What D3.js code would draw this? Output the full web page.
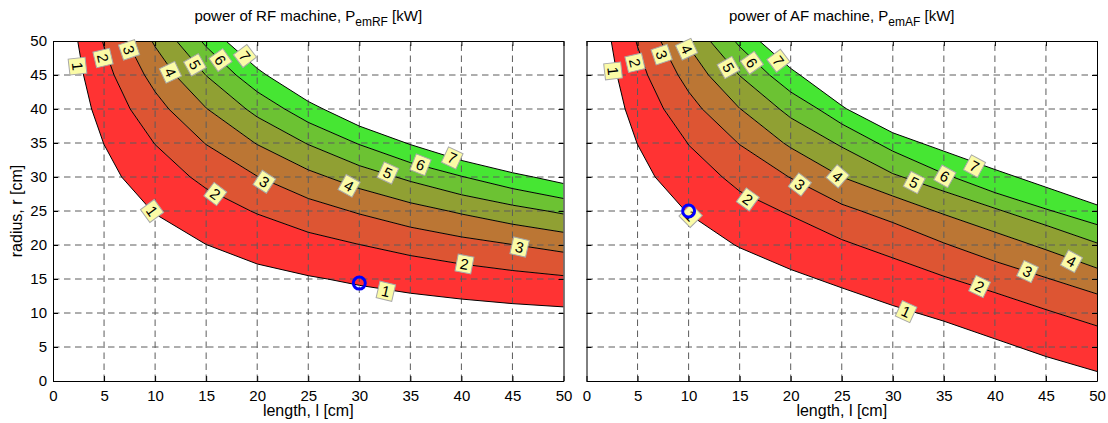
<!DOCTYPE html>
<html>
<head>
<meta charset="utf-8">
<script src="https://cdn.jsdelivr.net/npm/d3@7"></script>
<style>
  body { margin: 0; background: #fff; }
  svg text { font-family: "Liberation Sans", Arial, sans-serif; fill: #000; }
</style>
</head>
<body>
<svg id="chart" width="1108" height="423"></svg>
<script>
// ---------------- data ----------------
// Power levels (kW) of the contour lines
const levels = [1, 2, 3, 4, 5, 6, 7];
const lengthTicks = [0, 5, 10, 15, 20, 25, 30, 35, 40, 45, 50];
const radiusTicks = [0, 5, 10, 15, 20, 25, 30, 35, 40, 45, 50];

// RF machine: constant-power lines, [length l (cm), radius r (cm)]
const rfLine1 = [[2.42,50],[2.99,45],[3.78,40],[4.94,35],[5,34.77],[6.72,30],[9.68,25],[10,24.56],[15,20.07],[15.13,20],[20,17.21],[25,15.49],[26.89,15],[30,14.07],[35,12.91],[40,12.05],[45,11.38],[50,10.9]];
const rfLine2 = [[4.84,50],[5,49.16],[5.98,45],[7.56,40],[9.88,35],[10,34.77],[13.44,30],[15,28.30],[19.36,25],[20,24.56],[25,21.87],[30,20.07],[30.25,20],[35,18.45],[40,17.21],[45,16.25],[50,15.49]];
const rfLine3 = [[7.26,50],[8.96,45],[10,42.53],[11.34,40],[14.82,35],[15,34.77],[20,30.12],[20.17,30],[25,26.84],[29.04,25],[30,24.56],[35,22.63],[40,21.19],[45,20.07],[45.38,20],[50,18.94]];
const rfLine4 = [[9.68,50],[10,49.16],[11.95,45],[15,40.16],[15.13,40],[19.76,35],[20,34.77],[25,31.05],[26.89,30],[30,28.30],[35,26.21],[38.72,25],[40,24.56],[45,23.06],[50,21.87]];
const rfLine5 = [[12.1,50],[14.94,45],[15,44.90],[18.91,40],[20,38.83],[24.69,35],[25,34.77],[30,31.67],[33.61,30],[35,29.35],[40,27.39],[45,25.86],[48.4,25],[50,24.56]];
const rfLine6 = [[14.52,50],[15,49.16],[17.93,45],[20,42.53],[22.69,40],[25,38.03],[29.63,35],[30,34.77],[35,32.11],[40,30.12],[40.33,30],[45,28.30],[50,26.84]];
const rfLine7 = [[16.94,50],[20,45.97],[20.91,45],[25,41.11],[26.47,40],[30,37.49],[34.57,35],[35,34.77],[40,32.44],[45,30.63],[47.06,30],[50,29.04]];

// AF machine: constant-power lines, [length l (cm), radius r (cm)]
const afLine1 = [[2.42,50],[2.99,45],[3.78,40],[4.94,35],[5,34.77],[6.72,30],[9.68,25],[10,24.56],[14.5,20],[15,19.6],[20,16.4],[25,13.7],[30,11.1],[35,8.8],[40,6.2],[45,3.6],[50,1.4]];
const afLine2 = [[4.84,50],[5,49.16],[5.98,45],[7.56,40],[9.88,35],[10,34.7],[13.3,30],[15,27.9],[19,25],[20,24.3],[25,20.8],[30,18.1],[35,15.4],[40,13.0],[45,10.5],[50,8.1]];
const afLine3 = [[7.26,50],[8.96,45],[10,42.53],[11.34,40],[14.82,35],[15,34.75],[19.8,30],[20,29.85],[25,26.0],[26.9,25],[30,23.3],[35,20.3],[40,17.6],[45,15.2],[50,12.8]];
const afLine4 = [[9.68,50],[10,49.16],[11.95,45],[15,40.1],[15.1,40],[19.3,35],[20,34.3],[25,30.0],[30,27.2],[35,24.5],[40,21.9],[45,19.3],[50,16.6]];
const afLine5 = [[12.1,50],[14.94,45],[15,44.9],[18.9,40],[20,38.7],[24.3,35],[25,34.4],[30,30.5],[35,27.9],[40,25.4],[45,22.9],[50,20.3]];
const afLine6 = [[14.52,50],[15,49.16],[17.93,45],[20,42.5],[22.7,40],[25,37.8],[30,33.8],[35,30.5],[40,27.7],[45,25.3],[50,23.0]];
const afLine7 = [[16.94,50],[20,45.97],[20.91,45],[25,40.5],[25.5,40],[30,36.5],[35,33.8],[40,31.1],[45,28.5],[50,25.9]];

// Contour labels: [level, l, r]
const rfLabels = [[1,2.4,46.3],[2,4.9,47.5],[3,7.45,48.7],[4,11.5,45.4],[5,13.9,46.5],[6,16.4,47.2],[7,18.8,47.8],
                  [1,9.7,25.0],[2,15.9,27.5],[3,20.7,29.3],[4,29.0,28.7],[5,32.8,30.6],[6,36.0,31.8],[7,39.1,32.8],
                  [1,32.6,13.2],[2,40.3,17.2],[3,45.7,19.7]];
const afLabels = [[1,2.6,45.6],[2,4.75,46.8],[3,7.36,48.0],[4,9.8,48.8],[5,13.9,46.1],[6,16.2,46.8],[7,18.8,47.1],
                  [1,10.2,24.3],[2,15.8,26.7],[3,20.9,28.9],[4,24.6,30.1],[5,32.1,29.2],[6,35.1,30.1],[7,38.0,31.6],
                  [1,31.3,10.2],[2,38.5,13.9],[3,43.2,16.1],[4,47.5,17.6]];

// Operating points [l, r]
const rfPoint = [30, 14.4];
const afPoint = [10, 25];

// ---------------- drawing ----------------
const bandColors = ["#ff3333", "#dd5533", "#bb7634", "#90a033", "#6cc233", "#46e633"];
const svg = d3.select("#chart");
const y = d3.scaleLinear().domain([0, 50]).range([381, 41]);

const panels = [
  { id: "rf", x: d3.scaleLinear().domain([0, 50]).range([53, 563.5]),
    lines: [rfLine1, rfLine2, rfLine3, rfLine4, rfLine5, rfLine6, rfLine7],
    labels: rfLabels, point: rfPoint, sub: "emRF", name: "RF", yLabels: true },
  { id: "af", x: d3.scaleLinear().domain([0, 50]).range([586.5, 1097]),
    lines: [afLine1, afLine2, afLine3, afLine4, afLine5, afLine6, afLine7],
    labels: afLabels, point: afPoint, sub: "emAF", name: "AF", yLabels: false }
];

panels.forEach(p => {
  const x = p.x;
  const g = svg.append("g");
  const [x0, x1] = x.range();
  const [yb, yt] = y.range();

  g.append("clipPath").attr("id", "clip-" + p.id)
    .append("rect").attr("x", x0).attr("y", yt).attr("width", x1 - x0).attr("height", yb - yt);

  const plot = g.append("g").attr("clip-path", `url(#clip-${p.id})`);
  const line = d3.line().x(d => x(d[0])).y(d => y(d[1]));

  // filled bands between consecutive power levels
  for (let i = 0; i < p.lines.length - 1; i++) {
    const ring = p.lines[i].concat(p.lines[i + 1].slice().reverse());
    plot.append("path").attr("d", line(ring) + "Z").attr("fill", bandColors[i]).attr("stroke", "none");
  }

  // dashed grid
  plot.selectAll(".gx").data(lengthTicks.filter(t => t > 0 && t < 50)).join("line")
    .attr("x1", d => x(d)).attr("x2", d => x(d)).attr("y1", yb).attr("y2", yt)
    .attr("stroke", "#5c5c5c").attr("stroke-dasharray", "6.5,4.5").attr("stroke-width", 1);
  plot.selectAll(".gy").data(radiusTicks.filter(t => t > 0 && t < 50)).join("line")
    .attr("y1", d => y(d)).attr("y2", d => y(d)).attr("x1", x0).attr("x2", x1)
    .attr("stroke", "#5c5c5c").attr("stroke-dasharray", "6.5,4.5").attr("stroke-width", 1);

  // contour lines
  plot.selectAll(".cl").data(p.lines).join("path")
    .attr("d", d => line(d)).attr("fill", "none").attr("stroke", "#000").attr("stroke-width", 1);

  // axes (ticks pointing inward)
  const font = "Liberation Sans, Arial, sans-serif";
  const bottom = g.append("g").attr("transform", `translate(0,${yb})`)
    .call(d3.axisBottom(x).tickValues(lengthTicks).tickFormat(d3.format("d")).tickSizeInner(-5).tickSizeOuter(0).tickPadding(9));
  const left = g.append("g").attr("transform", `translate(${x0},0)`)
    .call(d3.axisLeft(y).tickValues(radiusTicks).tickFormat(p.yLabels ? d3.format("d") : () => "").tickSizeInner(-5).tickSizeOuter(0).tickPadding(6));
  const top = g.append("g").attr("transform", `translate(0,${yt})`)
    .call(d3.axisTop(x).tickValues(lengthTicks).tickFormat(() => "").tickSizeInner(-5).tickSizeOuter(0));
  const right = g.append("g").attr("transform", `translate(${x1},0)`)
    .call(d3.axisRight(y).tickValues(radiusTicks).tickFormat(() => "").tickSizeInner(-5).tickSizeOuter(0));
  [bottom, left, top, right].forEach(a => a.attr("font-size", 15).attr("font-family", font).attr("color", "#000"));

  // contour labels, turned along the direction of their line (measured in data units)
  const lab = g.append("g");
  p.labels.forEach(([lev, l, r]) => {
    const src = p.lines[levels.indexOf(lev)];
    const pts = src.map(d => [x(d[0]), y(d[1])]);
    const px = x(l), py = y(r);
    let best = Infinity, ang = 0;
    for (let i = 0; i < pts.length - 1; i++) {
      const [ax, ay] = pts[i], [bx, by] = pts[i + 1];
      const dx = bx - ax, dy = by - ay, len2 = dx * dx + dy * dy;
      if (len2 < 4) continue;
      let t = ((px - ax) * dx + (py - ay) * dy) / len2;
      t = Math.max(0, Math.min(1, t));
      const qx = ax + t * dx - px, qy = ay + t * dy - py;
      const dist = qx * qx + qy * qy;
      if (dist < best) {
        best = dist;
        const dl = src[i + 1][0] - src[i][0], dr = src[i][1] - src[i + 1][1];
        ang = Math.atan2(dr, dl) * 180 / Math.PI;
      }
    }
    const lg = lab.append("g").attr("transform", `translate(${px},${py}) rotate(${ang})`);
    lg.append("rect").attr("x", -8).attr("y", -8.5).attr("width", 16).attr("height", 17)
      .attr("fill", "#fbfba6").attr("stroke", "#a8a8a8").attr("stroke-width", 1);
    lg.append("text").attr("text-anchor", "middle").attr("dy", "0.36em")
      .attr("font-size", 15).text(lev);
  });

  // operating point
  g.append("circle").attr("cx", x(p.point[0])).attr("cy", y(p.point[1])).attr("r", 6)
    .attr("fill", "none").attr("stroke", "#0000ff").attr("stroke-width", 3);

  // titles and axis labels
  const cx = (x0 + x1) / 2;
  const title = g.append("text").attr("x", cx).attr("y", 21).attr("text-anchor", "middle").attr("font-size", 15);
  title.append("tspan").text(`power of ${p.name} machine, P`);
  title.append("tspan").attr("dy", 5).attr("font-size", 12).text(p.sub);
  title.append("tspan").attr("dy", -5).text(" [kW]");

  g.append("text").attr("x", cx).attr("y", 416).attr("text-anchor", "middle").attr("font-size", 16)
    .text("length, l [cm]");
  if (p.yLabels) {
    g.append("text").attr("transform", `translate(22,${(yb + yt) / 2}) rotate(-90)`)
      .attr("text-anchor", "middle").attr("font-size", 16).text("radius, r [cm]");
  }
});
</script>
</body>
</html>
